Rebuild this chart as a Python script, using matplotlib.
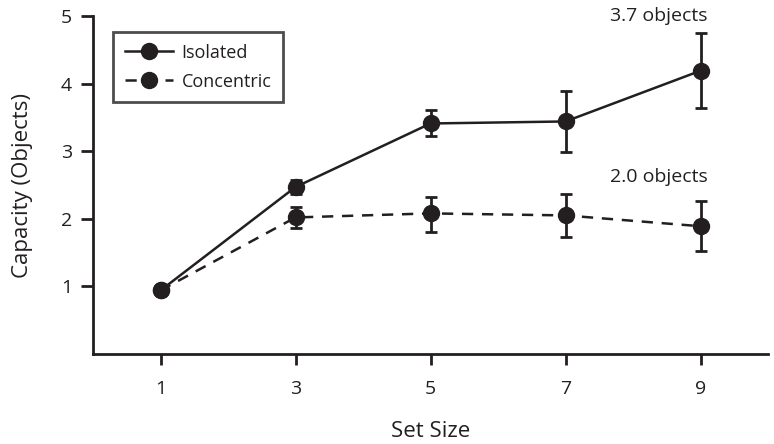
import matplotlib
matplotlib.use("Agg")
import matplotlib.pyplot as plt
from matplotlib.lines import Line2D

set_size = [1, 3, 5, 7, 9]
isolated = [0.94, 2.47, 3.41, 3.44, 4.19]
isolated_lo = [0.94, 2.36, 3.22, 2.99, 3.64]
isolated_hi = [0.94, 2.58, 3.61, 3.89, 4.75]
concentric = [0.94, 2.02, 2.08, 2.05, 1.89]
concentric_lo = [0.94, 1.86, 1.81, 1.73, 1.52]
concentric_hi = [0.94, 2.17, 2.32, 2.36, 2.27]
xticks = [1, 3, 5, 7, 9]
yticks = [1, 2, 3, 4, 5]
annotations = [(9, "3.7 objects", 5.0), (9, "2.0 objects", 2.62)]

plt.rcParams['font.family'] = ['Open Sans', 'DejaVu Sans']
fig = plt.figure(figsize=(7.74, 4.44), dpi=100)
ax = fig.add_axes([93/774, 1-354/444, (768-93)/774, (354-16)/444])

c = '#231f20'
dash = (0, (4.5, 3.5))
def err(v, lo, hi):
    return [[a - b for a, b in zip(v, lo)], [b - a for a, b in zip(v, hi)]]

ax.errorbar(set_size, isolated, yerr=err(isolated, isolated_lo, isolated_hi),
            color=c, lw=1.8, marker='o', ms=11.5, capsize=4.5, capthick=2, elinewidth=2,
            zorder=3)
ax.errorbar(set_size, concentric, yerr=err(concentric, concentric_lo, concentric_hi),
            color=c, lw=1.8, ls=dash, marker='o', ms=11.5, capsize=4.5, capthick=2,
            elinewidth=2, zorder=3)

for x, t, y in annotations:
    ax.text(x + 0.1, y, t, ha='right', va='center', fontsize=14, color=c)

ax.set_xlim(0, 10)
ax.set_ylim(0, 5)
ax.set_xticks(xticks)
ax.set_yticks(yticks)
ax.spines['top'].set_visible(False)
ax.spines['right'].set_visible(False)
for s in ['left', 'bottom']:
    ax.spines[s].set_linewidth(2)
    ax.spines[s].set_color(c)
ax.tick_params(axis='both', width=2, color=c, labelsize=14, labelcolor=c)
ax.tick_params(axis='y', length=9, pad=6)
ax.tick_params(axis='x', length=8, pad=11)
ax.set_xlabel('Set Size', fontsize=16, color=c, labelpad=16)
ax.set_ylabel('Capacity (Objects)', fontsize=16, color=c, labelpad=20)

handles = [Line2D([], [], color=c, lw=1.8, marker='o', ms=11.5),
           Line2D([], [], color=c, lw=1.8, ls=(0, (4.5, 3.5)), marker='o', ms=11.5)]
leg = ax.legend(handles, ['Isolated', 'Concentric'], loc='upper left',
                bbox_to_anchor=(20/675, 1-16/338), fontsize=13,
                frameon=True, fancybox=False, handlelength=2.7, borderpad=0.65,
                labelspacing=0.6, handletextpad=0.45, borderaxespad=0)
leg.get_frame().set_edgecolor(c)
leg.get_frame().set_linewidth(2)
for t in leg.get_texts():
    t.set_color(c)

fig.savefig('out.png', dpi=100)
